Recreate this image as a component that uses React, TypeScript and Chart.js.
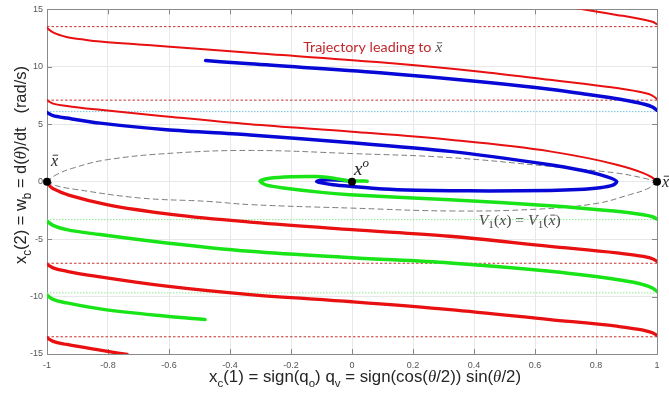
import React, { useEffect, useRef } from 'react';
import { Chart, registerables } from 'chart.js';

Chart.register(...registerables);

// ---------- tick labels ----------
const xTickValues = [-1, -0.8, -0.6, -0.4, -0.2, 0, 0.2, 0.4, 0.6, 0.8, 1];
const yTickValues = [-15, -10, -5, 0, 5, 10, 15];

// ---------- trajectories (x_c(1), x_c(2)) ----------
const redTopRight: [number, number][] = [
  [0.735, 15.1], [0.8, 14.82], [0.868, 14.52], [0.92, 14.3], [0.954, 14.12], [0.985, 13.92], [1.0, 13.72],
];
const redUpper: [number, number][] = [
  [-1, 13.37], [-0.98, 13.0], [-0.936, 12.6], [-0.88, 12.38], [-0.826, 12.2], [-0.7, 11.95], [-0.608, 11.77],
  [-0.334, 11.22], [0.092, 10.39], [0.422, 9.57], [0.649, 8.87], [0.752, 8.55], [0.868, 8.15], [0.95, 7.78],
  [0.985, 7.5], [1.0, 7.2],
];
const blueUpper: [number, number][] = [
  [-0.48, 10.55], [-0.334, 10.26], [0.092, 9.49], [0.422, 8.7], [0.649, 8.05], [0.752, 7.68], [0.884, 7.15],
  [0.95, 6.8], [0.985, 6.5], [1.0, 6.22],
];
const redToXbar: [number, number][] = [
  [-1, 7.07], [-0.98, 6.8], [-0.935, 6.6], [-0.826, 6.26], [-0.608, 5.68], [-0.334, 5.0], [0, 4.35],
  [0.321, 3.65], [0.649, 2.64], [0.868, 1.48], [0.955, 0.75], [0.985, 0.35], [1.0, 0],
];
const blueSpiral: [number, number][] = [
  [-1, 6.03], [-0.98, 5.75], [-0.935, 5.54], [-0.826, 5.1], [-0.608, 4.52], [-0.334, 4.07], [0, 3.4],
  [0.321, 2.64], [0.649, 1.48], [0.76, 0.95], [0.813, 0.62], [0.85, 0.3], [0.868, 0.0], [0.855, -0.3],
  [0.813, -0.52], [0.74, -0.68], [0.649, -0.76], [0.45, -0.8], [0.321, -0.79], [0.212, -0.75], [0.103, -0.64],
  [-0.007, -0.4], [-0.062, -0.26], [-0.1, -0.1], [-0.116, 0.02], [-0.1, 0.14], [-0.05, 0.15], [0, 0.05],
];
const greenSpiral: [number, number][] = [
  [1.0, -3.25], [0.985, -3.05], [0.955, -2.87], [0.868, -2.58], [0.649, -2.09], [0.321, -1.57], [0.15, -1.36],
  [-0.007, -1.13], [-0.1, -0.93], [-0.225, -0.55], [-0.28, -0.3], [-0.302, 0.05], [-0.27, 0.3], [-0.2, 0.43],
  [-0.116, 0.45], [-0.06, 0.3], [-0.02, 0.1], [0.02, 0.06], [0.05, 0.05],
];
const greenMiddle: [number, number][] = [
  [-1, -3.45], [-0.98, -3.8], [-0.935, -4.17], [-0.826, -4.6], [-0.608, -5.33], [-0.334, -6.06], [0, -6.62],
  [0.321, -7.07], [0.649, -7.8], [0.868, -8.52], [0.955, -8.96], [0.985, -9.25], [1.0, -9.54],
];
const redFromXbar: [number, number][] = [
  [-1, 0], [-0.99, -0.4], [-0.96, -0.85], [-0.914, -1.28], [-0.804, -2.0], [-0.586, -2.87], [-0.323, -3.54],
  [0, -4.17], [0.321, -4.75], [0.649, -5.63], [0.868, -6.2], [0.955, -6.5], [0.985, -6.7], [1.0, -6.93],
];
const redLower: [number, number][] = [
  [-1, -7.2], [-0.98, -7.5], [-0.935, -7.8], [-0.826, -8.29], [-0.608, -9.1], [-0.334, -9.83], [0, -10.45],
  [0.321, -11.13], [0.649, -12.0], [0.868, -12.58], [0.955, -12.93], [0.985, -13.15], [1.0, -13.37],
];
const greenShort: [number, number][] = [
  [-1, -9.89], [-0.98, -10.25], [-0.935, -10.55], [-0.826, -11.07], [-0.608, -11.71], [-0.482, -12.0],
];
const redBottomLeft: [number, number][] = [
  [-1, -13.6], [-0.98, -13.9], [-0.935, -14.17], [-0.826, -14.67], [-0.737, -15.04],
];

// ---------- level set V1(x) = V1(x_bar) ----------
const levelSetUpper: [number, number][] = [
  [-1, 0], [-0.97, 0.6], [-0.914, 1.19], [-0.804, 1.91], [-0.586, 2.49], [-0.33, 2.72], [0, 2.45],
  [0.321, 2.1], [0.649, 1.33], [0.868, 0.75], [0.955, 0.32], [1, 0],
];
const levelSetLower: [number, number][] = [
  [-1, 0], [-0.97, -0.35], [-0.914, -0.64], [-0.695, -1.42], [-0.476, -1.71], [-0.33, -2.0], [0, -2.3],
  [0.33, -2.55], [0.6, -2.4], [0.8, -1.9], [0.914, -1.1], [0.97, -0.6], [1, 0],
];

// ---------- horizontal reference levels ----------
const redDashLevels = [13.5, 7.1, -7.1, -13.5];
const blueDotLevels = [6.1];
const greenDotLevels = [-3.3, -9.68];

// ---------- marked points ----------
const keyPoints: [number, number][] = [[-1, 0], [1, 0], [0, 0]];

const RED = 'rgb(232,16,16)';
const BLUE = 'rgb(8,8,214)';
const GREEN = 'rgb(24,228,24)';

const toXY = (pts: [number, number][]) => pts.map(([x, y]) => ({ x, y }));

function curve(pts: [number, number][], color: string, width: number, order: number) {
  return {
    data: toXY(pts),
    showLine: true,
    borderColor: color,
    backgroundColor: color,
    borderWidth: width,
    pointRadius: 0,
    cubicInterpolationMode: 'monotone',
    borderCapStyle: 'round',
    borderJoinStyle: 'round',
    order,
  };
}

function spiral(pts: [number, number][], color: string, width: number, order: number) {
  return {
    data: toXY(pts),
    showLine: true,
    borderColor: color,
    backgroundColor: color,
    borderWidth: width,
    pointRadius: 0,
    tension: 0.25,
    borderCapStyle: 'round',
    borderJoinStyle: 'round',
    order,
  };
}

function level(y: number, color: string, dash: number[], order: number) {
  return {
    data: [{ x: -1, y }, { x: 1, y }],
    showLine: true,
    borderColor: color,
    borderWidth: 1,
    borderDash: dash,
    pointRadius: 0,
    tension: 0,
    order,
  };
}

type Seg = { t: string; font: string; dy?: number; bar?: boolean; color?: string };

function drawRich(ctx: CanvasRenderingContext2D, segs: Seg[], x: number, y: number, align: 'left' | 'center', targetW?: number) {
  let w = 0;
  for (const s of segs) {
    ctx.font = s.font;
    w += ctx.measureText(s.t).width;
  }
  const sx = targetW ? targetW / w : 1;
  ctx.save();
  ctx.translate(x, y);
  ctx.scale(sx, 1);
  let cx = align === 'center' ? -w / 2 : 0;
  ctx.textAlign = 'left';
  ctx.textBaseline = 'alphabetic';
  for (const s of segs) {
    ctx.font = s.font;
    const prev = ctx.fillStyle;
    if (s.color) ctx.fillStyle = s.color;
    ctx.fillText(s.t, cx, s.dy || 0);
    const mw = ctx.measureText(s.t).width;
    if (s.bar) {
      const m = ctx.measureText('x');
      const top = (s.dy || 0) - m.actualBoundingBoxAscent - 2.5;
      ctx.save();
      ctx.strokeStyle = (s.color || ctx.fillStyle) as string;
      ctx.lineWidth = 0.9;
      ctx.beginPath();
      ctx.moveTo(cx + mw * 0.25, top);
      ctx.lineTo(cx + mw * 1.0, top);
      ctx.stroke();
      ctx.restore();
    }
    ctx.fillStyle = prev;
    cx += mw;
  }
  ctx.restore();
}

const SANS = "'Liberation Sans', Arial, sans-serif";
const SERIF = "'Liberation Serif', 'DejaVu Serif', serif";

const overlay = {
  id: 'overlay',
  beforeDatasetsDraw(chart: any) {
    const ctx: CanvasRenderingContext2D = chart.ctx;
    const a = chart.chartArea;
    const xs = chart.scales.x;
    const ys = chart.scales.y;
    ctx.save();
    ctx.strokeStyle = '#8a8a8a';
    ctx.lineWidth = 1;
    ctx.beginPath();
    for (const v of xTickValues) {
      const p = Math.round(xs.getPixelForValue(v)) + 0.5;
      ctx.moveTo(p, a.bottom);
      ctx.lineTo(p, a.bottom - 5);
      ctx.moveTo(p, a.top);
      ctx.lineTo(p, a.top + 5);
    }
    for (const v of yTickValues) {
      const p = Math.round(ys.getPixelForValue(v)) + 0.5;
      ctx.moveTo(a.left, p);
      ctx.lineTo(a.left + 5, p);
      ctx.moveTo(a.right, p);
      ctx.lineTo(a.right - 5, p);
    }
    ctx.stroke();
    ctx.strokeRect(Math.round(a.left) + 0.5, Math.round(a.top) + 0.5, Math.round(a.right - a.left), Math.round(a.bottom - a.top));
    ctx.restore();
  },
  afterDraw(chart: any) {
    const ctx: CanvasRenderingContext2D = chart.ctx;
    const xs = chart.scales.x;
    const ys = chart.scales.y;
    const px = (v: number) => xs.getPixelForValue(v);
    const py = (v: number) => ys.getPixelForValue(v);
    ctx.save();

    // axis titles
    ctx.fillStyle = '#262626';
    const f = `16px ${SANS}`;
    const fs = `11px ${SANS}`;
    const fi = `italic 16px ${SERIF}`;
    drawRich(ctx, [
      { t: 'x', font: f }, { t: 'c', font: fs, dy: 5 }, { t: '(1) = sign(q', font: f }, { t: 'o', font: fs, dy: 5 },
      { t: ') q', font: f }, { t: 'v', font: fs, dy: 5 }, { t: ' = sign(cos(', font: f }, { t: 'θ', font: fi },
      { t: '/2)) sin(', font: f }, { t: 'θ', font: fi }, { t: '/2)', font: f },
    ], 365, 382, 'center', 312);

    ctx.save();
    ctx.translate(26, 165);
    ctx.rotate(-Math.PI / 2);
    const g = `17px ${SANS}`;
    const gs = `12px ${SANS}`;
    const gi = `italic 17px ${SERIF}`;
    drawRich(ctx, [
      { t: 'x', font: g }, { t: 'c', font: gs, dy: 5 }, { t: '(2) = w', font: g }, { t: 'b', font: gs, dy: 5 },
      { t: ' = d(', font: g }, { t: 'θ', font: gi }, { t: ')/dt   (rad/s)', font: g },
    ], 0, 0, 'center', 198);
    ctx.restore();

    // annotations
    const m = `italic 16px ${SERIF}`;
    ctx.fillStyle = '#222';
    drawRich(ctx, [{ t: 'x', font: m, bar: true }], px(-1) + 4, py(0) - 16, 'left');
    drawRich(ctx, [{ t: 'x', font: m, bar: true }], px(1) + 5, py(0) + 5, 'left');
    drawRich(ctx, [{ t: 'x', font: `italic 19px ${SERIF}` }, { t: 'o', font: `italic 13px ${SERIF}`, dy: -8 }], px(0) + 2, py(0) - 7, 'left');

    const vm = `italic 14px ${SERIF}`;
    const vr = `14px ${SERIF}`;
    const vs = `10px ${SERIF}`;
    ctx.fillStyle = '#4a4a4a';
    drawRich(ctx, [
      { t: 'V', font: vm }, { t: '1', font: vs, dy: 3 }, { t: '(', font: vr }, { t: 'x', font: vm }, { t: ') = ', font: vr },
      { t: 'V', font: vm }, { t: '1', font: vs, dy: 3 }, { t: '(', font: vr }, { t: 'x', font: vm, bar: true }, { t: ')', font: vr },
    ], px(0.55), py(-3.3) + 5, 'center', 82);

    drawRich(ctx, [
      { t: 'Trajectory leading to ', font: `13.5px Lato, 'Open Sans', sans-serif`, color: '#c0282d' },
      { t: 'x', font: `italic 15px ${SERIF}`, bar: true, color: '#555' },
    ], px(-0.16), py(11.7) + 5, 'left', 139);

    ctx.restore();
  },
};

export default function App() {
  const ref = useRef<HTMLCanvasElement>(null);
  useEffect(() => {
    const datasets: any[] = [
      { data: toXY(keyPoints), showLine: false, pointRadius: 4, pointBackgroundColor: '#000', pointBorderWidth: 0, clip: false, order: 0 },
      curve(redTopRight, RED, 2, 2),
      curve(redUpper, RED, 2, 2),
      curve(blueUpper, BLUE, 3.5, 2),
      curve(redToXbar, RED, 2, 2),
      spiral(blueSpiral, BLUE, 3.5, 3),
      spiral(greenSpiral, GREEN, 3.5, 2),
      curve(greenMiddle, GREEN, 3.5, 2),
      curve(redFromXbar, RED, 3.3, 2),
      curve(redLower, RED, 3.3, 2),
      curve(greenShort, GREEN, 3.5, 2),
      curve(redBottomLeft, RED, 3.3, 2),
      { ...spiral(levelSetUpper, '#7a7a7a', 1, 5), borderDash: [5, 4], tension: 0.4 },
      { ...spiral(levelSetLower, '#7a7a7a', 1, 5), borderDash: [5, 4], tension: 0.4 },
      ...redDashLevels.map((y) => level(y, '#c83232', [2.5, 2], 6)),
      ...blueDotLevels.map((y) => level(y, '#72c4e4', [1.5, 1.5], 6)),
      ...greenDotLevels.map((y) => level(y, '#8ee88e', [1.5, 1.5], 6)),
    ];
    const chart = new Chart(ref.current as HTMLCanvasElement, {
      type: 'scatter',
      data: { datasets },
      options: {
        animation: false,
        responsive: false,
        maintainAspectRatio: false,
        layout: { padding: { top: 9, right: 12, left: 0, bottom: 0 } },
        plugins: { legend: { display: false }, tooltip: { enabled: false } },
        scales: {
          x: {
            type: 'linear',
            min: -1,
            max: 1,
            afterBuildTicks: (s: any) => { s.ticks = xTickValues.map((v) => ({ value: v })); },
            afterFit: (s: any) => { s.height = 46; },
            ticks: { callback: (v: any) => String(v), font: { family: SANS, size: 9 }, color: '#555', padding: 6, maxRotation: 0, autoSkip: false },
            grid: { color: '#e8e8e8', drawTicks: false },
            border: { display: true, color: '#8a8a8a' },
          },
          y: {
            type: 'linear',
            min: -15,
            max: 15,
            afterBuildTicks: (s: any) => { s.ticks = yTickValues.map((v) => ({ value: v })); },
            afterFit: (s: any) => { s.width = 47; },
            ticks: { callback: (v: any) => String(v), font: { family: SANS, size: 9 }, color: '#555', padding: 4, autoSkip: false },
            grid: { color: '#e8e8e8', drawTicks: false },
            border: { display: true, color: '#8a8a8a' },
          },
        },
      } as any,
      plugins: [overlay],
    });
    return () => chart.destroy();
  }, []);
  return (
    <div style={{ position: 'fixed', left: 0, top: 0, width: 669, height: 400, background: '#fff' }}>
      <canvas ref={ref} width={669} height={400} style={{ width: 669, height: 400, display: 'block' }} />
    </div>
  );
}
